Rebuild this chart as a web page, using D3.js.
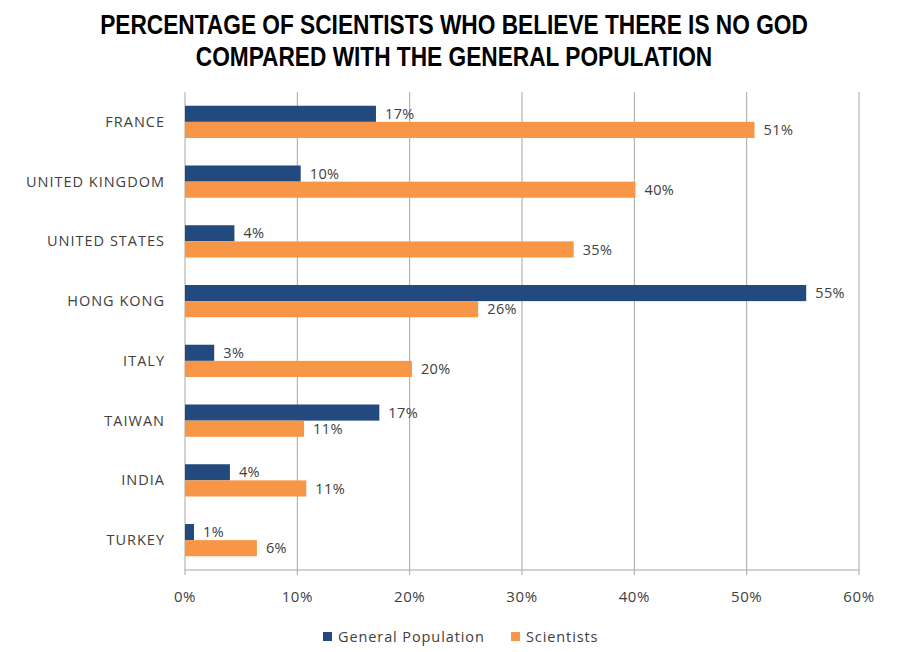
<!DOCTYPE html>
<html>
<head>
<meta charset="utf-8">
<script src="https://cdn.jsdelivr.net/npm/d3@7"></script>
<style>
  body { margin: 0; background: #fff; }
  svg { display: block; }
</style>
</head>
<body>
<div id="viz"></div>
<script>
const countries = ["FRANCE", "UNITED KINGDOM", "UNITED STATES", "HONG KONG", "ITALY", "TAIWAN", "INDIA", "TURKEY"];
const general = [17.0, 10.3, 4.4, 55.3, 2.6, 17.3, 4.0, 0.8];
const scientists = [50.7, 40.1, 34.6, 26.1, 20.2, 10.6, 10.8, 6.4];
const seriesNames = ["General Population", "Scientists"];
const xTicks = [0, 10, 20, 30, 40, 50, 60];
const titleLines = ["PERCENTAGE OF SCIENTISTS WHO BELIEVE THERE IS NO GOD", "COMPARED WITH THE GENERAL POPULATION"];

const width = 900, height = 652;
const margin = { top: 92, right: 41, bottom: 82, left: 185 };
const innerW = width - margin.left - margin.right;
const innerH = height - margin.top - margin.bottom;
const colors = ["#234a7e", "#f79646"];
const font = "'Open Sans', 'DejaVu Sans', sans-serif";

const svg = d3.select("#viz").append("svg")
  .attr("width", width)
  .attr("height", height);

// title: bold, squeezed horizontally like a condensed face
const titleG = svg.append("g")
  .selectAll("g")
  .data(titleLines)
  .join("g");
const title = titleG.append("text")
  .attr("text-anchor", "middle")
  .attr("font-family", "'Liberation Sans', Arial, sans-serif")
  .attr("font-weight", "bold")
  .attr("font-size", 28)
  .attr("fill", "#000")
  .text((d) => d);
const sx = 708 / title.nodes()[0].getComputedTextLength();
titleG.attr("transform", (d, i) => `translate(454,${34 + i * 32}) scale(${sx},1)`);

const x = d3.scaleLinear().domain([0, 60]).range([0, innerW]);
const y = d3.scaleBand().domain(countries).range([0, innerH]).paddingInner(0.46).paddingOuter(0.23);
const sub = d3.scaleBand().domain(seriesNames).range([0, y.bandwidth()]);

const g = svg.append("g").attr("transform", `translate(${margin.left},${margin.top})`);

// grid
g.selectAll(".grid")
  .data(xTicks)
  .join("line")
  .attr("class", "grid")
  .attr("x1", (d) => x(d))
  .attr("x2", (d) => x(d))
  .attr("y1", 0)
  .attr("y2", innerH + 5)
  .attr("stroke", "#a6a6a6")
  .attr("stroke-width", 1);

g.append("line")
  .attr("x1", 0)
  .attr("x2", innerW)
  .attr("y1", innerH)
  .attr("y2", innerH)
  .attr("stroke", "#a6a6a6");

// x tick labels
g.selectAll(".xlab")
  .data(xTicks)
  .join("text")
  .attr("class", "xlab")
  .attr("x", (d) => x(d))
  .attr("y", innerH + 32)
  .attr("text-anchor", "middle")
  .attr("font-family", font)
  .attr("font-size", 15)
  .attr("letter-spacing", 0.6)
  .attr("fill", "#404040")
  .text((d) => d + "%");

// category labels
g.selectAll(".ylab")
  .data(countries)
  .join("text")
  .attr("class", "ylab")
  .attr("x", -20)
  .attr("y", (d) => y(d) + y.bandwidth() / 2)
  .attr("dy", "0.35em")
  .attr("text-anchor", "end")
  .attr("font-family", font)
  .attr("font-size", 14.5)
  .attr("letter-spacing", 1)
  .attr("fill", "#404040")
  .text((d) => d);

const rows = countries.map((c, i) => ({ country: c, vals: [general[i], scientists[i]] }));

const row = g.selectAll(".row")
  .data(rows)
  .join("g")
  .attr("class", "row")
  .attr("transform", (d) => `translate(0,${y(d.country)})`);

row.selectAll("rect")
  .data((d) => d.vals.map((v, k) => ({ name: seriesNames[k], v, k })))
  .join("rect")
  .attr("x", 0)
  .attr("y", (d) => sub(d.name))
  .attr("width", (d) => x(d.v))
  .attr("height", sub.bandwidth())
  .attr("fill", (d) => colors[d.k]);

row.selectAll("text")
  .data((d) => d.vals.map((v, k) => ({ name: seriesNames[k], v, k })))
  .join("text")
  .attr("x", (d) => x(d.v) + 9)
  .attr("y", (d) => sub(d.name) + sub.bandwidth() / 2)
  .attr("dy", "0.35em")
  .attr("font-family", font)
  .attr("font-size", 14.5)
  .attr("letter-spacing", 0.4)
  .attr("fill", "#404040")
  .text((d) => Math.round(d.v) + "%");

// legend
const legendX = [323, 511];
const lg = svg.append("g")
  .selectAll("g")
  .data(seriesNames)
  .join("g")
  .attr("transform", (d, i) => `translate(${legendX[i]},632)`);
lg.append("rect")
  .attr("width", 9)
  .attr("height", 9)
  .attr("fill", (d, i) => colors[i]);
lg.append("text")
  .attr("x", 15)
  .attr("y", 5)
  .attr("dy", "0.35em")
  .attr("font-family", font)
  .attr("font-size", 14.5)
  .attr("letter-spacing", 0.9)
  .attr("fill", "#404040")
  .text((d) => d);
</script>
</body>
</html>
